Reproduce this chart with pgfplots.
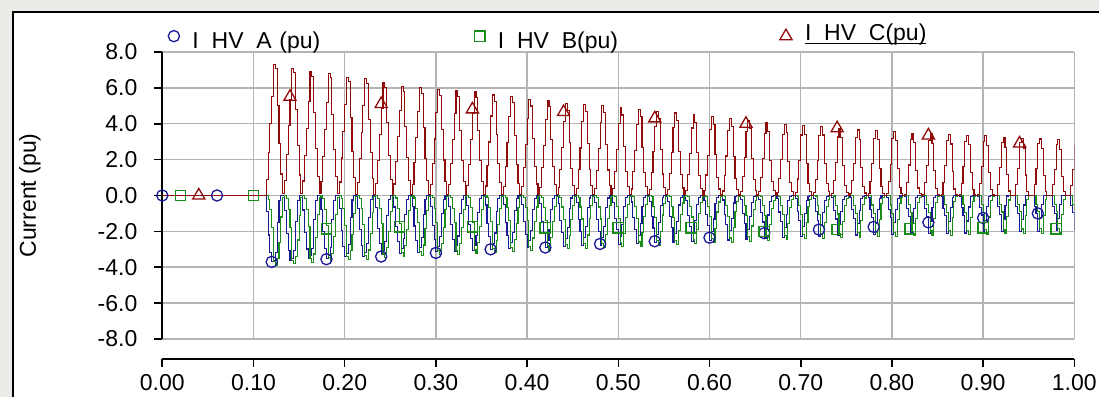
\documentclass[border=0pt]{standalone}
\usepackage{pgfplots}
\usepackage{pgfplotstable}
\pgfplotsset{compat=1.18}
\usepackage{fontspec}
\setmainfont{Liberation Sans}
\newcommand\fs{\fontsize{11.5}{13}\selectfont}
\definecolor{cA}{RGB}{25,25,150}
\definecolor{cB}{RGB}{25,140,25}
\definecolor{cC}{RGB}{145,10,10}
\definecolor{gridc}{RGB}{180,180,180}
\definecolor{bgc}{RGB}{236,235,232}
\pgfplotstableread{
t a b c
0 0 0 0
0.114 -0.9 0 0.9
0.116 -2.2 -0.2 2.4
0.118 -3.2 -0.8 4.0
0.120 -3.7 -1.8 5.5
0.122 -3.6 -3.7 7.3
0.124 -3.2 -3.9 7.1
0.126 -1.5 -3.5 5.0
0.128 -0.3 -2.6 2.9
0.130 0 -1.2 1.2
0.132 0 -0.1 0.1
0.134 -0.86 0 0.86
0.136 -2.12 -0.19 2.31
0.138 -3.09 -0.79 3.88
0.140 -3.62 -1.76 5.37
0.142 -3.49 -3.61 7.09
0.144 -3.07 -3.81 6.88
0.146 -1.43 -3.38 4.81
0.148 -0.29 -2.48 2.77
0.150 0 -1.14 1.14
0.152 0 -0.1 0.1
0.154 -0.81 0 0.81
0.156 -2.04 -0.18 2.22
0.158 -2.98 -0.77 3.75
0.160 -3.53 -1.71 5.24
0.162 -3.37 -3.52 6.89
0.164 -2.93 -3.72 6.65
0.166 -1.35 -3.26 4.61
0.168 -0.27 -2.36 2.63
0.170 0 -1.08 1.08
0.172 0 -0.09 0.09
0.174 -0.79 0 0.79
0.176 -2.01 -0.18 2.18
0.178 -2.94 -0.76 3.70
0.180 -3.50 -1.69 5.19
0.182 -3.32 -3.48 6.80
0.184 -2.88 -3.68 6.56
0.186 -1.32 -3.21 4.53
0.188 -0.26 -2.31 2.58
0.190 0 -1.06 1.06
0.192 0 -0.09 0.09
0.194 -0.75 0 0.75
0.196 -1.93 -0.17 2.09
0.198 -2.83 -0.75 3.58
0.200 -3.41 -1.65 5.06
0.202 -3.21 -3.39 6.59
0.204 -2.74 -3.59 6.34
0.206 -1.25 -3.09 4.34
0.208 -0.25 -2.19 2.44
0.210 0 -1.0 1.0
0.212 0 -0.08 0.08
0.214 -0.73 0 0.73
0.216 -1.90 -0.16 2.06
0.218 -2.78 -0.74 3.53
0.220 -3.38 -1.63 5.01
0.222 -3.16 -3.35 6.51
0.224 -2.69 -3.56 6.25
0.226 -1.22 -3.04 4.26
0.228 -0.24 -2.14 2.39
0.230 0 -0.97 0.97
0.232 0 -0.08 0.08
0.234 -0.68 0 0.68
0.236 -1.82 -0.15 1.97
0.238 -2.67 -0.73 3.40
0.240 -3.29 -1.58 4.88
0.242 -3.05 -3.26 6.30
0.244 -2.55 -3.47 6.02
0.246 -1.14 -2.92 4.06
0.248 -0.23 -2.02 2.25
0.250 0 -0.91 0.91
0.252 0 -0.08 0.08
0.254 -0.64 0 0.64
0.256 -1.74 -0.14 1.88
0.258 -2.56 -0.71 3.28
0.260 -3.21 -1.54 4.75
0.262 -2.93 -3.16 6.10
0.264 -2.42 -3.38 5.80
0.266 -1.07 -2.80 3.87
0.268 -0.21 -1.90 2.12
0.270 0 -0.85 0.85
0.272 0 -0.07 0.07
0.274 -0.62 0 0.62
0.276 -1.70 -0.14 1.84
0.278 -2.52 -0.71 3.23
0.280 -3.17 -1.52 4.69
0.282 -2.89 -3.13 6.01
0.284 -2.36 -3.34 5.71
0.286 -1.04 -2.76 3.79
0.288 -0.21 -1.86 2.06
0.290 0 -0.83 0.83
0.292 0 -0.07 0.07
0.294 -0.59 0 0.59
0.296 -1.66 -0.13 1.79
0.298 -2.45 -0.70 3.15
0.300 -3.12 -1.49 4.62
0.302 -2.82 -3.07 5.89
0.304 -2.28 -3.29 5.57
0.306 -0.99 -2.68 3.67
0.308 -0.20 -1.78 1.98
0.310 0 -0.79 0.79
0.312 0 -0.07 0.07
0.314 -0.59 0 0.59
0.316 -1.64 -0.13 1.77
0.318 -2.43 -0.70 3.13
0.320 -3.11 -1.49 4.59
0.322 -2.80 -3.05 5.85
0.324 -2.26 -3.27 5.53
0.326 -0.98 -2.66 3.64
0.328 -0.20 -1.76 1.96
0.330 0 -0.78 0.78
0.332 0 -0.07 0.07
0.334 -0.58 0 0.58
0.336 -1.62 -0.13 1.75
0.338 -2.41 -0.69 3.10
0.340 -3.09 -1.48 4.56
0.342 -2.77 -3.03 5.81
0.344 -2.23 -3.25 5.48
0.346 -0.96 -2.64 3.60
0.348 -0.19 -1.74 1.93
0.350 0 -0.77 0.77
0.352 0 -0.06 0.06
0.354 -0.53 0 0.53
0.356 -1.54 -0.12 1.66
0.358 -2.30 -0.68 2.98
0.360 -3.00 -1.43 4.43
0.362 -2.66 -2.94 5.60
0.364 -2.09 -3.16 5.26
0.366 -0.89 -2.52 3.40
0.368 -0.18 -1.62 1.79
0.370 0 -0.71 0.71
0.372 0 -0.06 0.06
0.374 -0.51 0 0.51
0.376 -1.51 -0.11 1.63
0.378 -2.25 -0.67 2.93
0.380 -2.97 -1.41 4.38
0.382 -2.61 -2.90 5.52
0.384 -2.04 -3.13 5.17
0.386 -0.86 -2.47 3.32
0.388 -0.17 -1.57 1.74
0.390 0 -0.68 0.68
0.392 0 -0.06 0.06
0.394 -0.48 0 0.48
0.396 -1.45 -0.11 1.55
0.398 -2.17 -0.66 2.83
0.400 -2.90 -1.38 4.28
0.402 -2.52 -2.83 5.35
0.404 -1.93 -3.05 4.99
0.406 -0.80 -2.37 3.17
0.408 -0.16 -1.47 1.63
0.410 0 -0.64 0.64
0.412 0 -0.05 0.05
0.414 -0.47 0 0.47
0.416 -1.43 -0.10 1.54
0.418 -2.14 -0.66 2.80
0.420 -2.88 -1.37 4.25
0.422 -2.50 -2.81 5.31
0.424 -1.90 -3.04 4.94
0.426 -0.78 -2.35 3.13
0.428 -0.16 -1.45 1.60
0.430 0 -0.62 0.62
0.432 0 -0.05 0.05
0.434 -0.43 0 0.43
0.436 -1.37 -0.10 1.46
0.438 -2.06 -0.64 2.70
0.440 -2.82 -1.33 4.15
0.442 -2.40 -2.74 5.14
0.444 -1.80 -2.96 4.76
0.446 -0.72 -2.25 2.97
0.448 -0.14 -1.35 1.50
0.450 0 -0.58 0.58
0.452 0 -0.05 0.05
0.454 -0.41 0 0.41
0.456 -1.34 -0.09 1.43
0.458 -2.01 -0.64 2.65
0.460 -2.78 -1.31 4.10
0.462 -2.36 -2.70 5.06
0.464 -1.74 -2.93 4.67
0.466 -0.69 -2.20 2.89
0.468 -0.14 -1.30 1.44
0.470 0 -0.55 0.55
0.472 0 -0.05 0.05
0.474 -0.41 0 0.41
0.476 -1.32 -0.09 1.41
0.478 -1.99 -0.64 2.63
0.480 -2.77 -1.31 4.07
0.482 -2.34 -2.68 5.02
0.484 -1.72 -2.91 4.63
0.486 -0.68 -2.18 2.86
0.488 -0.14 -1.28 1.42
0.490 0 -0.54 0.54
0.492 0 -0.05 0.05
0.494 -0.38 0 0.38
0.496 -1.27 -0.08 1.36
0.498 -1.92 -0.63 2.55
0.500 -2.71 -1.28 3.99
0.502 -2.27 -2.63 4.89
0.504 -1.63 -2.86 4.49
0.506 -0.63 -2.11 2.74
0.508 -0.13 -1.21 1.33
0.510 0 -0.50 0.50
0.512 0 -0.04 0.04
0.514 -0.36 0 0.36
0.516 -1.24 -0.08 1.32
0.518 -1.88 -0.62 2.50
0.520 -2.68 -1.26 3.94
0.522 -2.22 -2.59 4.81
0.524 -1.58 -2.82 4.40
0.526 -0.60 -2.06 2.66
0.528 -0.12 -1.16 1.28
0.530 0 -0.48 0.48
0.532 0 -0.04 0.04
0.534 -0.33 0 0.33
0.536 -1.19 -0.07 1.27
0.538 -1.81 -0.61 2.43
0.540 -2.63 -1.23 3.86
0.542 -2.15 -2.53 4.69
0.544 -1.50 -2.77 4.27
0.546 -0.56 -1.99 2.54
0.548 -0.11 -1.09 1.20
0.550 0 -0.44 0.44
0.552 0 -0.04 0.04
0.554 -0.32 0 0.32
0.556 -1.16 -0.07 1.23
0.558 -1.77 -0.61 2.38
0.560 -2.60 -1.22 3.81
0.562 -2.11 -2.50 4.60
0.564 -1.45 -2.73 4.18
0.566 -0.53 -1.94 2.47
0.568 -0.11 -1.04 1.15
0.570 0 -0.42 0.42
0.572 0 -0.04 0.04
0.574 -0.30 0 0.30
0.576 -1.13 -0.07 1.19
0.578 -1.73 -0.60 2.33
0.580 -2.56 -1.20 3.76
0.582 -2.06 -2.46 4.52
0.584 -1.39 -2.69 4.09
0.586 -0.50 -1.89 2.39
0.588 -0.10 -0.99 1.09
0.590 0 -0.40 0.40
0.592 0 -0.03 0.03
0.594 -0.27 0 0.27
0.596 -1.08 -0.06 1.14
0.598 -1.66 -0.59 2.25
0.600 -2.51 -1.17 3.68
0.602 -1.99 -2.41 4.40
0.604 -1.31 -2.64 3.95
0.606 -0.45 -1.82 2.27
0.608 -0.09 -0.92 1.01
0.610 0 -0.36 0.36
0.612 0 -0.03 0.03
0.614 -0.25 0 0.25
0.616 -1.05 -0.06 1.10
0.618 -1.62 -0.58 2.20
0.620 -2.48 -1.15 3.63
0.622 -1.94 -2.37 4.31
0.624 -1.26 -2.60 3.86
0.626 -0.42 -1.77 2.19
0.628 -0.08 -0.87 0.96
0.630 0 -0.34 0.34
0.632 0 -0.03 0.03
0.634 -0.23 0 0.23
0.636 -1.00 -0.05 1.05
0.638 -1.55 -0.58 2.13
0.640 -2.43 -1.13 3.55
0.642 -1.88 -2.31 4.19
0.644 -1.18 -2.55 3.73
0.646 -0.38 -1.70 2.08
0.648 -0.08 -0.80 0.88
0.650 0 -0.30 0.30
0.652 0 -0.03 0.03
0.654 -0.20 0 0.20
0.656 -0.95 -0.04 1.00
0.658 -1.48 -0.57 2.05
0.660 -2.37 -1.10 3.47
0.662 -1.81 -2.26 4.06
0.664 -1.09 -2.50 3.59
0.666 -0.33 -1.63 1.96
0.668 -0.07 -0.73 0.79
0.670 0 -0.26 0.26
0.672 0 -0.02 0.02
0.674 -0.18 0 0.18
0.676 -0.92 -0.04 0.96
0.678 -1.44 -0.56 2.00
0.680 -2.34 -1.08 3.42
0.682 -1.76 -2.22 3.98
0.684 -1.04 -2.46 3.50
0.686 -0.30 -1.58 1.88
0.688 -0.06 -0.68 0.74
0.690 0 -0.24 0.24
0.692 0 -0.02 0.02
0.694 -0.16 0 0.16
0.696 -0.89 -0.04 0.92
0.698 -1.40 -0.55 1.95
0.700 -2.31 -1.06 3.37
0.702 -1.71 -2.18 3.90
0.704 -0.99 -2.42 3.41
0.706 -0.27 -1.53 1.80
0.708 -0.05 -0.63 0.69
0.710 0 -0.22 0.22
0.712 0 -0.02 0.02
0.714 -0.15 0 0.15
0.716 -0.87 -0.03 0.91
0.718 -1.37 -0.55 1.93
0.720 -2.29 -1.05 3.34
0.722 -1.69 -2.16 3.86
0.724 -0.96 -2.41 3.37
0.726 -0.26 -1.51 1.76
0.728 -0.05 -0.61 0.66
0.730 0 -0.20 0.20
0.732 0 -0.02 0.02
0.734 -0.13 0 0.13
0.736 -0.82 -0.03 0.85
0.738 -1.31 -0.54 1.85
0.740 -2.24 -1.03 3.26
0.742 -1.62 -2.11 3.73
0.744 -0.88 -2.35 3.23
0.746 -0.21 -1.44 1.65
0.748 -0.04 -0.54 0.58
0.750 0 -0.17 0.17
0.752 0 -0.01 0.01
0.754 -0.11 0 0.11
0.756 -0.79 -0.02 0.82
0.758 -1.26 -0.54 1.80
0.760 -2.20 -1.01 3.21
0.762 -1.58 -2.07 3.65
0.764 -0.82 -2.32 3.14
0.766 -0.18 -1.39 1.57
0.768 -0.04 -0.49 0.52
0.770 0 -0.14 0.14
0.772 0 -0.01 0.01
0.774 -0.10 0 0.10
0.776 -0.78 -0.02 0.80
0.778 -1.24 -0.53 1.78
0.780 -2.19 -1.00 3.19
0.782 -1.55 -2.05 3.61
0.784 -0.80 -2.30 3.10
0.786 -0.17 -1.36 1.53
0.788 -0.03 -0.46 0.50
0.790 0 -0.13 0.13
0.792 0 -0.01 0.01
0.794 -0.09 0 0.09
0.796 -0.76 -0.02 0.78
0.798 -1.22 -0.53 1.75
0.800 -2.17 -0.99 3.16
0.802 -1.53 -2.04 3.57
0.804 -0.77 -2.28 3.05
0.806 -0.15 -1.34 1.49
0.808 -0.03 -0.44 0.47
0.810 0 -0.12 0.12
0.812 0 -0.01 0.01
0.814 -0.07 0 0.07
0.816 -0.73 -0.02 0.74
0.818 -1.18 -0.52 1.70
0.820 -2.14 -0.97 3.11
0.822 -1.48 -2.00 3.48
0.824 -0.72 -2.24 2.96
0.826 -0.12 -1.29 1.41
0.828 -0.02 -0.39 0.42
0.830 0 -0.10 0.10
0.832 0 -0.01 0.01
0.834 -0.06 0 0.06
0.836 -0.71 -0.01 0.73
0.838 -1.15 -0.52 1.68
0.840 -2.12 -0.96 3.08
0.842 -1.46 -1.98 3.44
0.844 -0.69 -2.23 2.92
0.846 -0.11 -1.27 1.37
0.848 -0.02 -0.37 0.39
0.850 0 -0.08 0.08
0.852 0 -0.01 0.01
0.854 -0.05 0 0.05
0.856 -0.70 -0.01 0.71
0.858 -1.13 -0.52 1.65
0.860 -2.10 -0.95 3.06
0.862 -1.44 -1.96 3.40
0.864 -0.66 -2.21 2.87
0.866 -0.09 -1.24 1.33
0.868 -0.02 -0.34 0.36
0.870 0 -0.07 0.07
0.872 0 -0.01 0.01
0.874 -0.05 0 0.05
0.876 -0.68 -0.01 0.69
0.878 -1.11 -0.52 1.63
0.880 -2.09 -0.95 3.03
0.882 -1.42 -1.94 3.36
0.884 -0.64 -2.19 2.83
0.886 -0.08 -1.22 1.30
0.888 -0.02 -0.32 0.34
0.890 0 -0.06 0.06
0.892 0 -0.01 0.01
0.894 -0.04 0 0.04
0.896 -0.66 -0.01 0.67
0.898 -1.09 -0.51 1.60
0.900 -2.07 -0.94 3.00
0.902 -1.39 -1.92 3.32
0.904 -0.61 -2.17 2.78
0.906 -0.06 -1.20 1.26
0.908 -0.01 -0.30 0.31
0.910 0 -0.05 0.05
0.912 0 0 0
0.914 -0.02 0 0.02
0.916 -0.63 0 0.63
0.918 -1.04 -0.51 1.55
0.920 -2.03 -0.92 2.95
0.922 -1.35 -1.89 3.23
0.924 -0.55 -2.14 2.69
0.926 -0.03 -1.15 1.18
0.928 -0.01 -0.25 0.25
0.930 0 -0.02 0.02
0.932 0 0 0
0.934 -0.01 0 0.01
0.936 -0.62 0 0.62
0.938 -1.02 -0.50 1.52
0.940 -2.02 -0.91 2.93
0.942 -1.32 -1.87 3.19
0.944 -0.53 -2.12 2.65
0.946 -0.02 -1.12 1.14
0.948 0 -0.22 0.22
0.950 0 -0.01 0.01
0.952 0 0 0
0.954 0 0 0
0.956 -0.60 0 0.60
0.958 -1.00 -0.50 1.50
0.960 -2.00 -0.90 2.90
0.962 -1.30 -1.85 3.15
0.964 -0.50 -2.10 2.60
0.966 0 -1.10 1.10
0.968 0 -0.20 0.20
0.970 0 0 0
0.972 0 0 0
0.974 0 0 0
0.976 -0.59 0 0.59
0.978 -0.98 -0.49 1.47
0.980 -1.96 -0.88 2.84
0.982 -1.27 -1.83 3.10
0.984 -0.49 -2.08 2.57
0.986 0 -1.08 1.08
0.988 0 -0.20 0.20
0.990 0 0 0
0.992 0 0 0
0.994 0 0 0
0.996 -0.58 0 0.58
0.998 -0.97 -0.48 1.45
1.000 -1.94 -0.87 2.81
}\wave
\begin{document}
\begin{tikzpicture}
\fill[bgc] (-81.15pt,-29pt) rectangle (468.35pt,169.5pt);
\fill[white] (-74.65pt,-29pt) rectangle (468.35pt,163.5pt);
\draw[black, line width=1pt] (-74.65pt,-29pt) -- (-74.65pt,163.5pt) -- (468.35pt,163.5pt);
\begin{axis}[
  at={(0,0)}, anchor=south west,
  scale only axis, width=456pt, height=143.5pt,
  xmin=0, xmax=1, ymin=-8, ymax=8,
  xtick={0,0.1,0.2,0.3,0.4,0.5,0.6,0.7,0.8,0.9,1},
  xticklabels={0.00,0.10,0.20,0.30,0.40,0.50,0.60,0.70,0.80,0.90,1.00},
  ytick={-8,-6,-4,-2,0,2,4,6,8},
  yticklabels={-8.0,-6.0,-4.0,-2.0,0.0,2.0,4.0,6.0,8.0},
  grid=major, major grid style={draw=gridc, line width=0.75pt},
  axis x line*=bottom, axis y line*=left,
  axis line style={-, black, line width=1pt},
  axis x line shift=9.75pt,
  tick align=outside, major tick length=4pt,
  tick style={black, line width=0.8pt},
  xticklabel style={font=\fs, inner sep=0pt, anchor=north, yshift=-3.7pt},
  yticklabel style={font=\fs, inner sep=0pt, anchor=east, xshift=-8.3pt},
  ylabel={Current (pu)},
  every axis y label/.style={at={(axis description cs:-0.1452,0.5)}, rotate=90, anchor=center, font=\fs},
  legend columns=3,
  legend cell align=left,
  legend image code/.code={\draw[#1] plot coordinates {(0pt,3pt)};},
  legend style={at={(axis description cs:0,1)}, anchor=south west, xshift=3pt,
    draw=none, fill=none, inner sep=0pt, outer sep=0pt, font=\fs,
    nodes={inner sep=0pt, text width=70pt, align=left, font=\fs},
    /tikz/every odd column/.append style={column sep=6.5pt},
    /tikz/every even column/.append style={column sep=71pt}},
]
\addplot[const plot, cA, line width=0.55pt, forget plot] table[x=t, y=a] {\wave};
\addplot[const plot, cB, line width=0.55pt, forget plot] table[x=t, y=b] {\wave};
\addplot[const plot, cC, line width=0.55pt, forget plot] table[x=t, y=c] {\wave};
\addplot[only marks, cA, mark=o, mark options={mark size=2.8pt, line width=0.65pt}] coordinates {
(0,0) (0.06,0) (0.12,-3.7) (0.18,-3.55) (0.24,-3.4) (0.30,-3.2) (0.36,-3.0) (0.42,-2.9) (0.48,-2.7)
(0.54,-2.55) (0.60,-2.35) (0.66,-2.1) (0.72,-1.9) (0.78,-1.75) (0.84,-1.5) (0.90,-1.25) (0.96,-1.0)};
\addlegendentry{I\hphantom{\_}HV\hphantom{\_}A (pu)}
\addplot[only marks, cB, mark=square, mark options={mark size=2.6pt, line width=0.65pt}] coordinates {
(0.02,0) (0.10,0) (0.18,-1.85) (0.26,-1.75) (0.34,-1.75) (0.42,-1.8) (0.50,-1.8) (0.58,-1.8)
(0.66,-2.0) (0.74,-1.9) (0.82,-1.85) (0.90,-1.8) (0.98,-1.85)};
\addlegendentry{I\hphantom{\_}HV\hphantom{\_}B(pu)}
\addplot[only marks, cC, mark=triangle, mark options={mark size=3.5pt, line width=0.65pt}] coordinates {
(0.04,0) (0.14,5.5) (0.24,5.1) (0.34,4.8) (0.44,4.65) (0.54,4.3) (0.64,4.0) (0.74,3.75) (0.84,3.35) (0.94,2.9)};
\addlegendentry{\underline{\smash{I\hphantom{\_}HV\hphantom{\_}C(pu)}}}
\end{axis}
\pgfresetboundingbox
\path[use as bounding box] (-81.15pt,-29pt) rectangle (468.35pt,169.5pt);
\end{tikzpicture}
\end{document}
